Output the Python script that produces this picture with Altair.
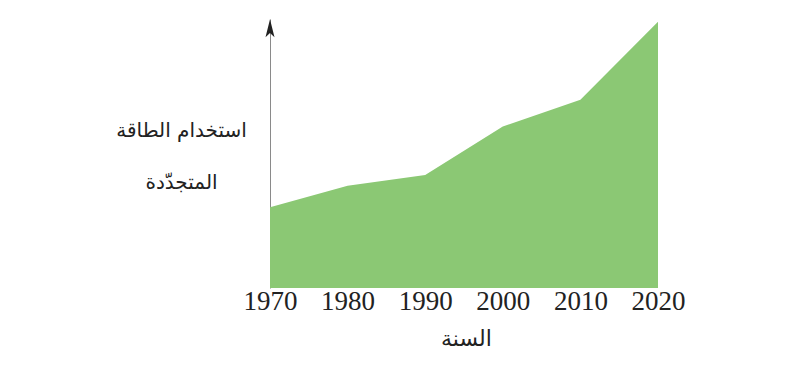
import altair as alt
import pandas as pd

years = [1970, 1980, 1990, 2000, 2010, 2020]
usage = [30, 38, 42, 60, 70, 99]
tick_years = [1970, 1980, 1990, 2000, 2010, 2020]
x_title = "السنة"
y_title = ["استخدام الطاقة", "المتجدّدة"]

df = pd.DataFrame({"year": years, "usage": usage})
arrow_df = pd.DataFrame({"year": [1970], "usage": [96.6]})

x_scale = alt.Scale(domain=[1970, 2020], nice=False, zero=False)
y_scale = alt.Scale(domain=[0, 100], nice=False)

area = alt.Chart(df).mark_area(color="#8BC874", opacity=1).encode(
    x=alt.X("year:Q", scale=x_scale,
            axis=alt.Axis(values=tick_years, format="d", title=x_title,
                          domain=False, ticks=False, grid=False,
                          labelFlush=False, labelOverlap=False,
                          labelFont="Liberation Serif", labelFontSize=27,
                          labelColor="#222222", labelPadding=0,
                          titleFont="DejaVu Sans", titleFontSize=22,
                          titleFontWeight="normal", titleColor="#222222",
                          titlePadding=14, titleX=196)),
    y=alt.Y("usage:Q", scale=y_scale,
            axis=alt.Axis(title=y_title, labels=False, ticks=False, grid=False,
                          domain=True, domainColor="#8a8a8a", domainWidth=1,
                          titleAngle=0, titleAlign="center",
                          titleBaseline="alphabetic",
                          titleX=-89, titleY=117, titleLineHeight=52,
                          titleFont="DejaVu Sans", titleFontSize=20,
                          titleFontWeight="normal", titleColor="#222222")),
)

arrow = alt.Chart(arrow_df).mark_point(
    shape="M0,-1L0.5,1L0,0.55L-0.5,1Z", filled=True, color="#222222",
    size=324, opacity=1
).encode(
    x=alt.X("year:Q", scale=x_scale),
    y=alt.Y("usage:Q", scale=y_scale),
)

chart = alt.layer(area, arrow).properties(
    width=388, height=269,
    autosize=alt.AutoSizeParams(type="none"),
    padding={"left": 262, "top": 11, "right": 100, "bottom": 67},
    background="white",
).configure_view(stroke=None)

chart.save("out.html", embed_options={"renderer": "svg", "actions": False})
